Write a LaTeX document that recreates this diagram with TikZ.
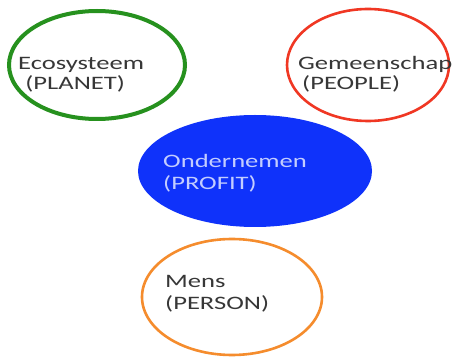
\documentclass[tikz,border=0pt]{standalone}
\usepackage{fontspec}
\newfontfamily\calfont[FakeStretch=1.4]{Carlito}
\definecolor{cgreen}{RGB}{38,145,30}
\definecolor{cred}{RGB}{240,55,35}
\definecolor{cblue}{RGB}{15,50,250}
\definecolor{corange}{RGB}{245,140,45}
\definecolor{ctext}{RGB}{55,55,55}
\definecolor{cptext}{RGB}{195,205,255}
\begin{document}
\begin{tikzpicture}[x=1pt,y=-1pt,
  ring/.style={draw,ellipse},
  lbl/.style={anchor=base west,inner sep=0pt,text=ctext,font=\calfont\fontsize{19}{22}\selectfont}]
\useasboundingbox (0,0) rectangle (453,358);
\fill[white] (0,0) rectangle (453,358);
\begin{scope}
\clip (0,0) rectangle (453,358);
\draw[cgreen,line width=4pt] (97,65) ellipse [x radius=88,y radius=54] coordinate (eco);
\draw[cred,line width=2.6pt] (368,65) ellipse [x radius=81,y radius=56] coordinate (gem);
\fill[cblue] (255,171) ellipse [x radius=117,y radius=56];
\draw[corange,line width=2.6pt] (232,297) ellipse [x radius=90,y radius=58];
\node[lbl] (e1) at (18,70) {Ecosysteem};
\node[lbl] (e2) at (22,90) {\,(PLANET)};
\node[lbl] (g1) at (298,70) {Gemeenschap};
\node[lbl] (g2) at (302,90) {(PEOPLE)};
\node[lbl,text=cptext] (o1) at (163,168) {Ondernemen};
\node[lbl,text=cptext] (o2) at (163,190) {(PROFIT)};
\node[lbl] (m1) at (165,288) {Mens};
\node[lbl] (m2) at (165,310) {(PERSON)};
\end{scope}
\end{tikzpicture}
\end{document}
